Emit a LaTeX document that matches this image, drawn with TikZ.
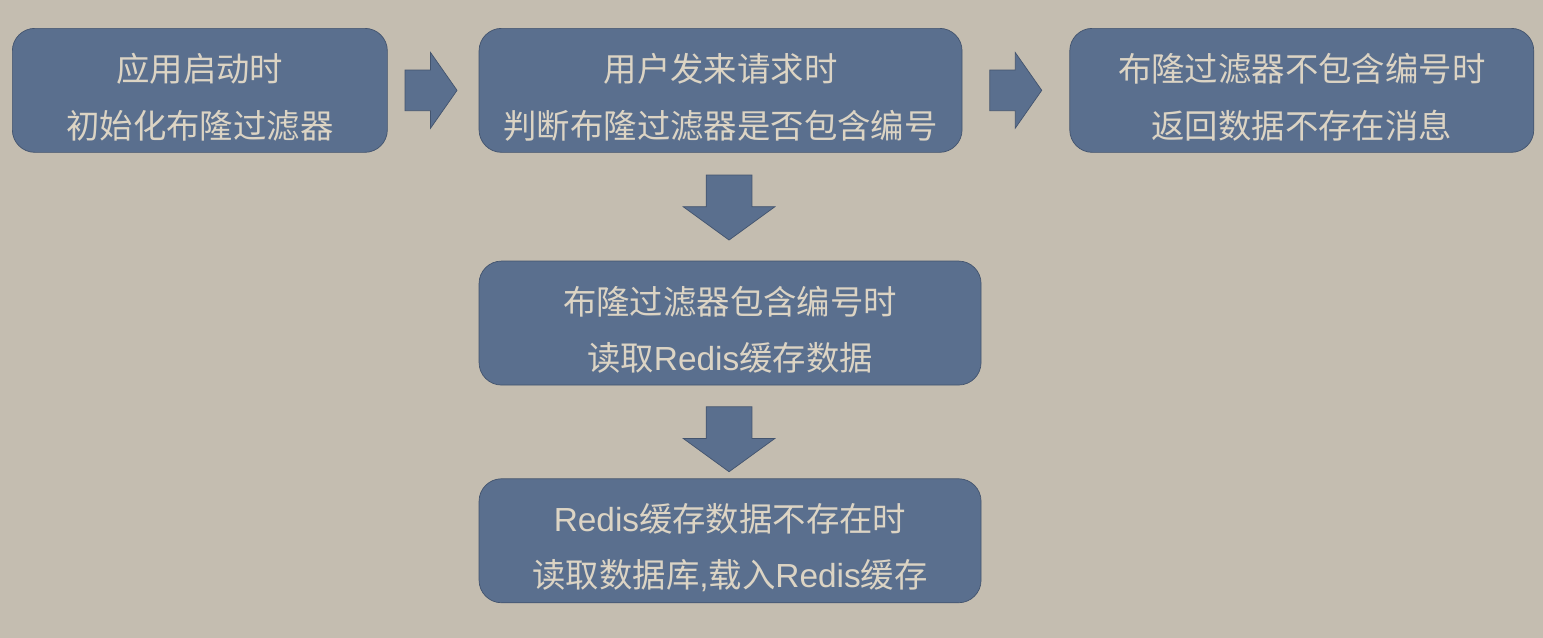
\documentclass[tikz,border=0pt]{standalone}
\usepackage{fontspec}
\setmainfont{Noto Sans CJK SC}
\newfontfamily\latfont{Liberation Sans}
\usepackage{xcolor}
\definecolor{cBg}{HTML}{C4BDB0}
\definecolor{cBox}{HTML}{5A6F8E}
\definecolor{cLine}{HTML}{43546E}
\definecolor{cText}{HTML}{DCD4C4}
\usepackage{tikz}
\usetikzlibrary{positioning,calc,shapes.arrows}
\tikzset{
  node-box/.style={draw=cLine,thin,fill=cBox,rounded corners=0.45cm,
    minimum height=2.48cm,align=center,text=cText,inner sep=0pt,
    font=\fontsize{19}{32}\selectfont},
  % block arrows between the steps
  arrow-right/.style={single arrow,draw=cLine,thin,fill=cBox,
    inner xsep=0pt,inner ysep=0.4cm,minimum height=1.04cm,
    single arrow head extend=0.35cm,single arrow tip angle=110},
  arrow-down/.style={single arrow,draw=cLine,thin,fill=cBox,
    shape border rotate=270,inner xsep=0.45cm,inner ysep=0pt,
    minimum height=1.3cm,
    single arrow head extend=0.46cm,single arrow tip angle=108},
}
\newcommand{\topgap}{\rule{0pt}{24pt}}
\begin{document}
\begin{tikzpicture}
  \fill[cBg] (0,0) rectangle (30.86,-12.76);
  \useasboundingbox (0,0) rectangle (30.86,-12.76);
  \node[node-box,minimum width=7.5cm,anchor=north west] (init) at (0.24,-0.56)
    {\topgap 应用启动时\\初始化布隆过滤器};
  \node[node-box,minimum width=9.66cm,right=1.82cm of init] (query)
    {\topgap 用户发来请求时\\判断布隆过滤器是否包含编号};
  \node[node-box,minimum width=9.28cm,right=2.14cm of query] (miss)
    {\topgap 布隆过滤器不包含编号时\\返回数据不存在消息};
  \node[node-box,minimum width=10.04cm,below=2.16cm of query.south west,anchor=north west] (hit)
    {\topgap 布隆过滤器包含编号时\\读取{\latfont Redis}缓存数据};
  \node[node-box,minimum width=10.04cm,below=1.86cm of hit] (load)
    {\topgap{\latfont Redis}缓存数据不存在时\\读取数据库{\latfont ,}载入{\latfont Redis}缓存};
  \node[arrow-right,anchor=tail] (r1) at ($(init.east)+(0.34,0)$) {};
  \node[arrow-right,anchor=tail] (r2) at ($(query.east)+(0.54,0)$) {};
  \node[arrow-down,anchor=tail] (d1) at ($(query.south -| hit.north)+(-0.02,-0.44)$) {};
  \node[arrow-down,anchor=tail] (d2) at ($(hit.south)+(-0.02,-0.42)$) {};
\end{tikzpicture}
\end{document}
